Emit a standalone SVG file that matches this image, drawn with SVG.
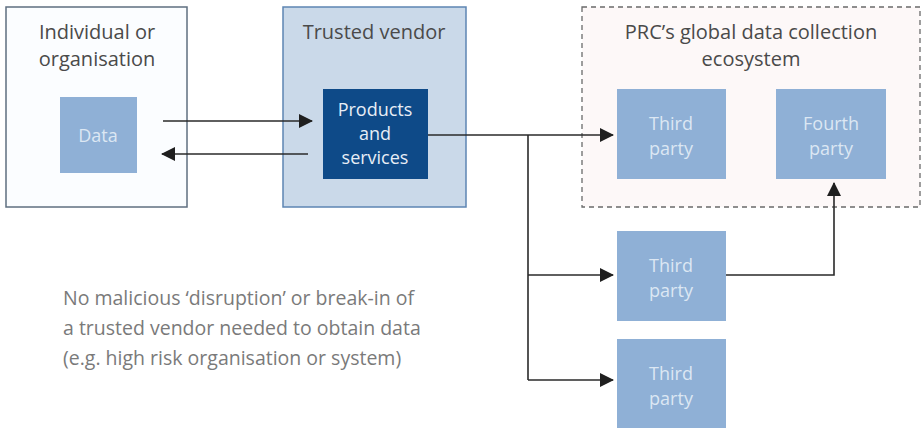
<svg xmlns="http://www.w3.org/2000/svg" width="922" height="428" viewBox="0 0 922 428">
  <defs>
    <marker id="arr" viewBox="0 0 14 14" refX="13" refY="7" markerWidth="14" markerHeight="14" markerUnits="userSpaceOnUse" orient="auto">
      <path d="M0,0 L14,7 L0,14 z" fill="#1f1f1f"/>
    </marker>
    <style>
      .title { font-family: "Open Sans", "Liberation Sans", sans-serif; font-size: 20px; fill: #4a4a4a; text-anchor: middle; }
      .lbl { font-family: "Open Sans", "Liberation Sans", sans-serif; font-size: 18px; fill: #dce7f3; text-anchor: middle; }
      .lbl-dark { font-family: "Open Sans", "Liberation Sans", sans-serif; font-size: 18px; fill: #e8eef6; text-anchor: middle; }
      .note { font-family: "Open Sans", "Liberation Sans", sans-serif; font-size: 19.5px; fill: #7a7a7a; }
      .party { fill: #8fb0d6; }
      .conn { fill: none; stroke: #2a2a2a; stroke-width: 1.6; }
    </style>
  </defs>
  <rect width="922" height="428" fill="#ffffff"/>

  <!-- Individual or organisation -->
  <g id="individual">
    <rect x="6" y="7" width="181" height="200" fill="#fbfdff" stroke="#5f6f80" stroke-width="1.5"/>
    <text class="title" x="97" y="39">Individual or</text>
    <text class="title" x="97" y="66">organisation</text>
  </g>
  <g id="data">
    <rect class="party" x="60" y="97" width="77" height="76"/>
    <text class="lbl" x="98" y="142">Data</text>
  </g>

  <!-- Trusted vendor -->
  <g id="vendor">
    <rect x="283" y="7" width="183" height="200" fill="#cad9e9" stroke="#5d85b3" stroke-width="1.5"/>
    <text class="title" x="374" y="39">Trusted vendor</text>
  </g>
  <g id="products">
    <rect x="323" y="89" width="105" height="90" fill="#0e4a88"/>
    <text class="lbl-dark" x="375" y="116">Products</text>
    <text class="lbl-dark" x="375" y="140">and</text>
    <text class="lbl-dark" x="375" y="164">services</text>
  </g>

  <!-- Ecosystem -->
  <g id="ecosystem">
    <rect x="582" y="7" width="338" height="200" fill="#fdf8f8" stroke="#6a6a6a" stroke-width="1.3" stroke-dasharray="5,4"/>
    <text class="title" x="751" y="39">PRC’s global data collection</text>
    <text class="title" x="751" y="66">ecosystem</text>
  </g>
  <g id="third-party-1">
    <rect class="party" x="617" y="89" width="109" height="90"/>
    <text class="lbl" x="671" y="130">Third</text>
    <text class="lbl" x="671" y="155">party</text>
  </g>
  <g id="fourth-party">
    <rect class="party" x="776" y="89" width="110" height="90"/>
    <text class="lbl" x="831" y="130">Fourth</text>
    <text class="lbl" x="831" y="155">party</text>
  </g>
  <g id="third-party-2">
    <rect class="party" x="617" y="231" width="109" height="90"/>
    <text class="lbl" x="671" y="272">Third</text>
    <text class="lbl" x="671" y="297">party</text>
  </g>
  <g id="third-party-3">
    <rect class="party" x="617" y="339" width="109" height="89"/>
    <text class="lbl" x="671" y="380">Third</text>
    <text class="lbl" x="671" y="405">party</text>
  </g>

  <!-- Note -->
  <g id="note">
    <text class="note" x="63" y="305">No malicious ‘disruption’ or break-in of</text>
    <text class="note" x="63" y="335">a trusted vendor needed to obtain data</text>
    <text class="note" x="63" y="365">(e.g. high risk organisation or system)</text>
  </g>

  <!-- Connectors -->
  <g id="connectors">
    <path class="conn" d="M163,121 H312" marker-end="url(#arr)"/>
    <path class="conn" d="M308,154 H162" marker-end="url(#arr)"/>
    <path class="conn" d="M428,135 H613" marker-end="url(#arr)"/>
    <path class="conn" d="M528,135 V380"/>
    <path class="conn" d="M528,275 H613" marker-end="url(#arr)"/>
    <path class="conn" d="M528,380 H613" marker-end="url(#arr)"/>
    <path class="conn" d="M726,275 H834 V183" marker-end="url(#arr)"/>
  </g>
</svg>
